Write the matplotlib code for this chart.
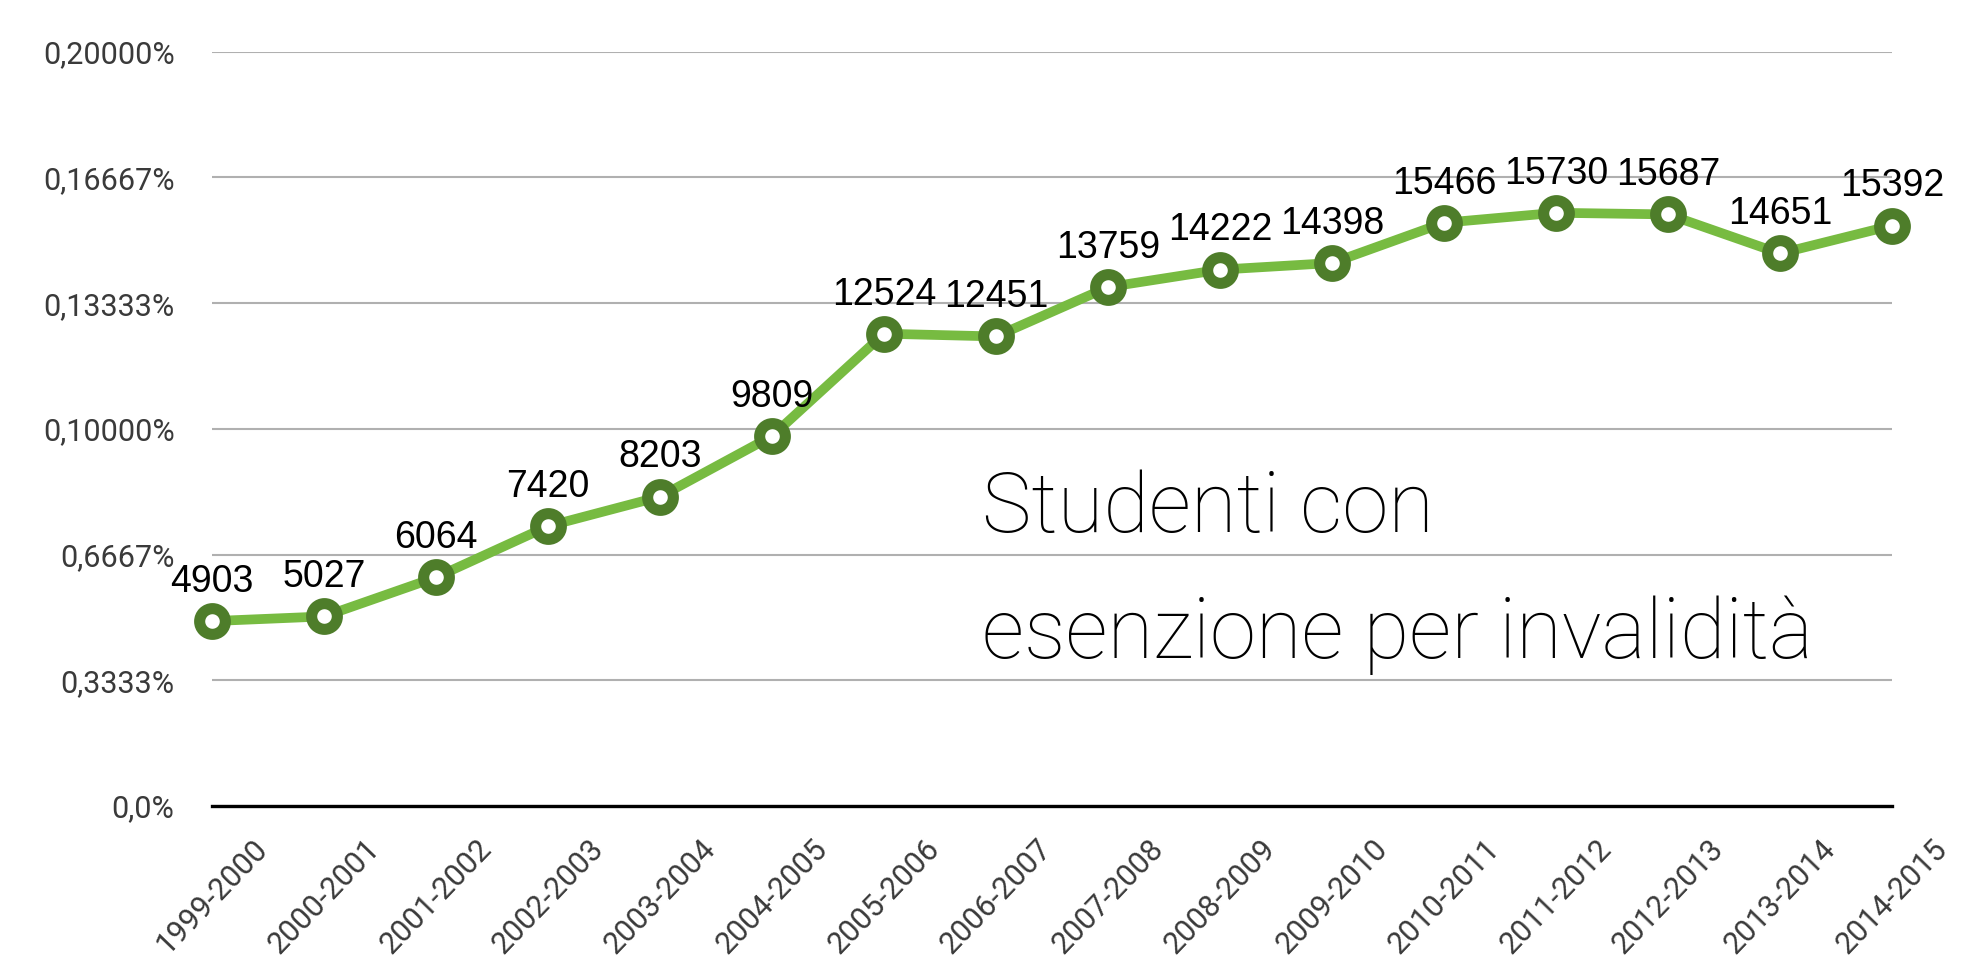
import matplotlib
matplotlib.use("Agg")
import matplotlib.pyplot as plt

# dati
anni = ["1999-2000", "2000-2001", "2001-2002", "2002-2003", "2003-2004",
        "2004-2005", "2005-2006", "2006-2007", "2007-2008", "2008-2009",
        "2009-2010", "2010-2011", "2011-2012", "2012-2013", "2013-2014",
        "2014-2015"]
studenti = [4903, 5027, 6064, 7420, 8203, 9809, 12524, 12451, 13759, 14222,
            14398, 15466, 15730, 15687, 14651, 15392]

y_ticks = [0, 3333.3, 6666.7, 10000, 13333.3, 16666.7, 20000]
y_tick_labels = ["0,0%", "0,3333%", "0,6667%", "0,10000%", "0,13333%",
                 "0,16667%", "0,20000%"]

titolo = ["Studenti con", "esenzione per invalidità"]

verde_linea = "#77bb41"
verde_scuro = "#4e7d2a"

fig = plt.figure(figsize=(19.87, 9.69), dpi=100)
ax = fig.add_axes([0.1067, 0.1682, 0.8455, 0.7784])

x = list(range(len(anni)))
ax.plot(x, studenti, color=verde_linea, lw=7, zorder=3, solid_capstyle="round",
        marker="o", ms=18.5, mfc="white", mec=verde_scuro, mew=8, clip_on=False)

for xi, v in zip(x, studenti):
    ax.annotate(str(v), (xi, v), xytext=(0, 21), textcoords="offset points",
                ha="center", va="baseline", fontsize=27, family="Liberation Sans",
                color="black", zorder=4)

ax.set_xlim(0, len(anni) - 1)
ax.set_ylim(0, 20000)

ax.set_yticks(y_ticks)
ax.set_yticklabels(y_tick_labels, fontsize=22, color="#3a3a3a",
                   family="Roboto", fontweight="normal")
ax.set_xticks(x)
ax.set_xticklabels(anni, rotation=46, ha="center", fontsize=22,
                   color="#3a3a3a", family="Roboto", fontweight="normal")
ax.tick_params(axis="y", length=0, pad=27)
ax.tick_params(axis="x", length=0, pad=20)

for s in ["top", "right", "left"]:
    ax.spines[s].set_visible(False)
ax.spines["bottom"].set_color("black")
ax.spines["bottom"].set_linewidth(2.4)
ax.spines["bottom"].set_zorder(2)

ax.yaxis.grid(True, color="#b0b0b0", lw=1.5)
ax.set_axisbelow(True)

fig.text(0.494, 1 - 532 / 969, titolo[0], fontsize=60, family="Roboto",
         fontweight="light", va="baseline", ha="left")
fig.text(0.494, 1 - 658 / 969, titolo[1], fontsize=60, family="Roboto",
         fontweight="light", va="baseline", ha="left")

fig.savefig("out.png", dpi=100, facecolor="white")
